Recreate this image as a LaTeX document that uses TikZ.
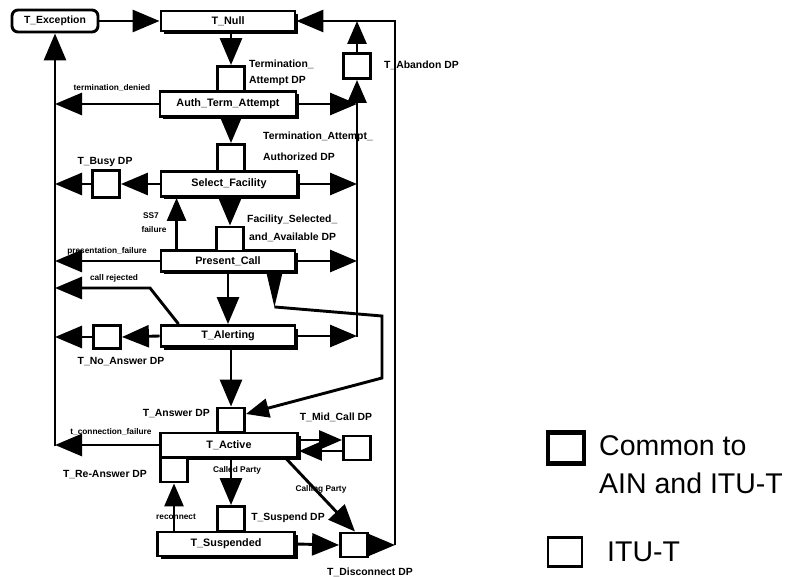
\documentclass[tikz,border=0pt]{standalone}
\usepackage{fontspec}
\setmainfont{Liberation Sans}
\usetikzlibrary{arrows.meta,shadows}
\begin{document}
\begin{tikzpicture}[x=1pt,y=-1pt,
  state/.style={draw,line width=2.9pt,fill=white,minimum width=134pt,minimum height=22pt,
    inner sep=0pt,font=\fontsize{10.8}{12}\selectfont\bfseries,
    drop shadow={shadow xshift=3pt,shadow yshift=-3pt,opacity=1,fill=black}},
  dpbox/.style={draw,line width=2.9pt,fill=white,minimum width=27pt,minimum height=25pt,inner sep=0pt},
  dplabel/.style={font=\fontsize{10.4}{12}\selectfont\bfseries,inner sep=0pt},
  evlabel/.style={font=\fontsize{8.3}{9}\selectfont\bfseries,inner sep=0pt},
  legend/.style={font=\fontsize{28.5}{30}\selectfont,inner sep=0pt,anchor=west},
  conn/.style={line width=2.9pt},
  arr/.style={conn,-{Triangle[length=27pt,width=22pt]}},
  sarr/.style={conn,-{Triangle[length=23pt,width=19pt]}}]
\useasboundingbox (0,0) rectangle (800,577);

% ---- states ----
\node[draw,line width=2.9pt,rounded corners=6pt,minimum width=86pt,minimum height=22pt,
  inner sep=0pt,font=\fontsize{10.4}{12}\selectfont\bfseries] (exc) at (55,21) {T\_Exception};
\node[state,minimum height=20pt] (null) at (228,21) {T\_Null};
\node[state,minimum width=136pt,minimum height=25pt] (auth) at (228,104) {Auth\_Term\_Attempt};
\node[state,minimum width=136pt,minimum height=25pt] (sel) at (229,184) {Select\_Facility};
\node[state,minimum height=21pt] (pres) at (228,261) {Present\_Call};
\node[state,minimum height=21pt] (alert) at (228,336) {T\_Alerting};
\node[state,minimum width=137pt,minimum height=24pt] (active) at (229,445) {T\_Active};
\node[state,minimum width=137pt,minimum height=24pt] (susp) at (226,544) {T\_Suspended};

% ---- detection points ----
\node[dpbox] (dpTA) at (231,79) {};
\node[dpbox] (dpAb) at (357,66) {};
\node[dpbox,minimum height=27pt] (dpTAA) at (231,158) {};
\node[dpbox,minimum height=27pt] (dpBusy) at (106,184) {};
\node[dpbox,minimum height=24pt] (dpFSA) at (230,239) {};
\node[dpbox,minimum height=23pt] (dpNoAns) at (107,337) {};
\node[dpbox,minimum height=24pt] (dpAns) at (231,420) {};
\node[dpbox,minimum height=24pt] (dpMid) at (357,448) {};
\node[dpbox,minimum height=24pt] (dpReAns) at (174,470) {};
\node[dpbox] (dpSusp) at (231,519) {};
\node[dpbox,minimum height=24pt] (dpDisc) at (354,545) {};

% ---- spine ends ----
\coordinate (spL) at (55,446);
\coordinate (spR) at (357,337);
\coordinate (spF) at (395,545);
\coordinate (bpA) at (382,316);
\coordinate (bpB) at (382,378);

% ---- spines ----
\draw[arr] (spL) -- (exc.south);
\draw[sarr] (spR) -- (dpAb.south);
\draw[sarr] (dpAb.north) -- (dpAb.north |- null.east);
\draw[arr] (dpDisc.east) -- (spF);
\draw[arr] (spF) |- (null.east);

% ---- main flow ----
\draw[arr] (exc.east) -- (null.west);
\draw[arr] (null.south -| dpTA.north) -- (dpTA.north);
\draw[arr] (auth.west) -- (auth.west -| spL);
\draw[arr] (auth.east) -- (auth.east -| spR);
\draw[arr] (auth.south -| dpTAA.north) -- (dpTAA.north);
\draw[arr] (sel.west) -- (dpBusy.east);
\draw[arr] (dpBusy.west) -- (dpBusy.west -| spL);
\draw[arr] (sel.east) -- (sel.east -| spR);
\draw[arr] (sel.south -| dpFSA.north) -- (dpFSA.north);
\path ([xshift=17pt]pres.north west) coordinate (ssA);
\draw[sarr] (ssA) -- (ssA |- sel.south);
\draw[arr] (pres.west) -- (pres.west -| spL);
\draw[arr] (pres.east) -- (pres.east -| spR);
\draw[arr] (pres.south) -- (alert.north);
\path ([xshift=19pt]alert.north west) coordinate (crA);
\coordinate (crB) at (150,288);
\draw[arr] (crA) -- (crB) -- (crB -| spL);
\draw[arr] (alert.west) -- (dpNoAns.east);
\draw[arr] (dpNoAns.west) -- (dpNoAns.west -| spL);
\draw[arr] (alert.east) -- (alert.east -| spR);
\draw[arr] (alert.south -| dpAns.north) -- (dpAns.north);

% answer without alerting
\fill ([xshift=-30pt]pres.south east) -- ([xshift=-14pt]pres.south east)
  -- ([xshift=-22pt,yshift=-34pt]pres.south east) coordinate (wTip) -- cycle;
\draw[sarr] (wTip) -- (bpA) -- (bpB) -- ([yshift=6pt]dpAns.east);

% active phase
\draw[arr] (active.west) -- (active.west -| spL);
\path ([yshift=5pt]active.east) coordinate (aeU) ([yshift=-6pt]active.east) coordinate (aeD);
\draw[sarr] (aeU) -- (aeU -| dpMid.west);
\draw[sarr] (aeD -| dpMid.west) -- (aeD);
\draw[arr] (active.south -| dpSusp.north) -- (dpSusp.north);
\draw[arr] ([xshift=-13pt]active.south east) -- ([xshift=1pt]dpDisc.north);
\draw[sarr] (susp.north -| dpReAns.south) -- (dpReAns.south);
\draw[arr] (susp.east) -- (dpDisc.west);

% ---- labels ----
\node[dplabel,anchor=west] (lTA1) at (249,64) {Termination\_};
\node[dplabel,anchor=west] (lTA2) at (249,81) {Attempt DP};
\node[dplabel,anchor=west] (lAb) at (384,65) {T\_Abandon DP};
\node[evlabel] (lden) at (112,88) {termination\_denied};
\node[dplabel,anchor=west] (lTAA1) at (263,137) {Termination\_Attempt\_};
\node[dplabel,anchor=west] (lTAA2) at (263,157) {Authorized DP};
\node[dplabel] (lBusy) at (105,162) {T\_Busy DP};
\node[evlabel] (lss1) at (151,216) {SS7};
\node[evlabel] (lss2) at (154,230) {failure};
\node[dplabel,anchor=west] (lFSA1) at (247,220) {Facility\_Selected\_};
\node[dplabel,anchor=west] (lFSA2) at (249,237) {and\_Available DP};
\node[evlabel] (lpf) at (107,251) {presentation\_failure};
\node[evlabel] (lcr) at (114,278) {call rejected};
\node[dplabel] (lNoAns) at (121,362) {T\_No\_Answer DP};
\node[dplabel,anchor=east] (lAns) at (210,414) {T\_Answer DP};
\node[evlabel] (lcf) at (111,432) {t\_connection\_failure};
\node[dplabel] (lMid) at (336,417) {T\_Mid\_Call DP};
\node[dplabel] (lReAns) at (105,475) {T\_Re-Answer DP};
\node[evlabel] (lcd) at (237,470) {Called Party};
\node[evlabel] (lrc) at (176,517) {reconnect};
\node[dplabel] (lSusp) at (288,518) {T\_Suspend DP};
\node[evlabel] (lcg) at (321,489) {Calling Party};
\node[dplabel] (lDisc) at (370,572) {T\_Disconnect DP};

% ---- legend ----
\node[draw,line width=4.2pt,minimum width=36pt,minimum height=31pt,inner sep=0pt] (kCommon) at (566,448) {};
\node[legend] (tCommon1) at (599,446) {Common to};
\node[legend] (tCommon2) at (599,483) {AIN and ITU-T};
\node[draw,line width=2.6pt,minimum width=34pt,minimum height=29pt,inner sep=0pt] (kItu) at (565,552) {};
\node[legend] (tItu) at (607,552) {ITU-T};
\end{tikzpicture}
\end{document}
